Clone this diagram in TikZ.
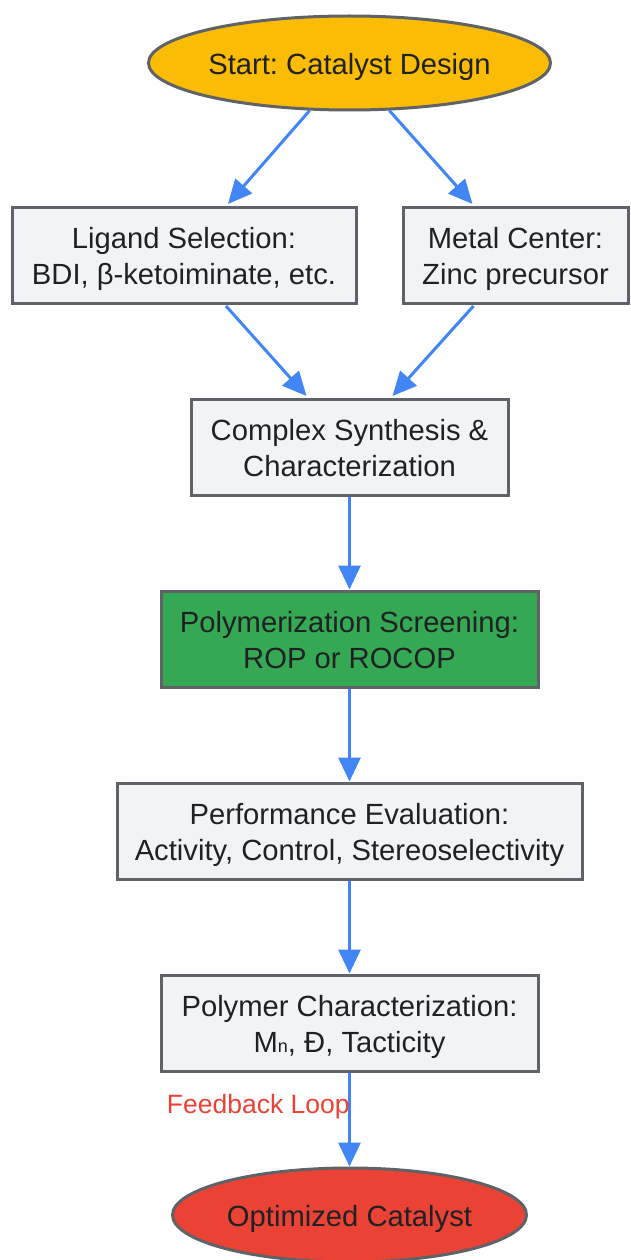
\documentclass[tikz,border=0pt]{standalone}
\usepackage{fontspec}
\setmainfont{Liberation Sans}
\usetikzlibrary{shapes.geometric,arrows.meta}
\frenchspacing
\definecolor{txt}{HTML}{202124}
\definecolor{bord}{HTML}{5F6368}
\definecolor{boxfill}{HTML}{F1F3F4}
\definecolor{startfill}{HTML}{FBBC05}
\definecolor{greenfill}{HTML}{34A853}
\definecolor{redfill}{HTML}{EA4335}
\definecolor{arrowblue}{HTML}{4285F4}
\newcommand\TopS{\rule{0pt}{31pt}}
\newcommand\BotS{\rule[-8pt]{0pt}{0pt}}
\tikzset{
  x=1pt, y=-1pt,
  base/.style={draw=bord, line width=3pt, text=txt, align=center, inner sep=0pt,
    font=\fontsize{29.2}{36}\selectfont},
  stepbox/.style={base, rectangle, fill=boxfill},
  oval/.style={base, ellipse,
    execute at begin node={\rule{0pt}{29pt}}, execute at end node={\rule[-5pt]{0pt}{0pt}}},
  arr/.style={draw=arrowblue, line width=3pt, -{Triangle[length=24pt, width=22pt]}},
}
\begin{document}
\begin{tikzpicture}
\useasboundingbox (0,0) rectangle (630,1260);
\node[oval, fill=startfill, minimum width=402pt, minimum height=94pt] (start) at (349.5,63) {Start: Catalyst Design};
\node[stepbox, minimum width=344pt, minimum height=96pt] (lig) at (184,255) {\TopS Ligand Selection:\\BDI, β-ketoiminate, etc.\BotS};
\node[stepbox, minimum width=225pt, minimum height=96pt] (met) at (515.5,255) {\TopS Metal Center:\\Zinc precursor\BotS};
\node[stepbox, minimum width=317pt, minimum height=96pt] (cx) at (349.5,447) {\TopS Complex Synthesis \&\\Characterization\BotS};
\node[stepbox, fill=greenfill, minimum width=377pt, minimum height=96pt] (poly) at (349.5,639) {\TopS Polymerization Screening:\\ROP or ROCOP\BotS};
\node[stepbox, minimum width=465pt, minimum height=96pt] (perf) at (349.5,831) {\TopS Performance Evaluation:\\Activity, Control, Stereoselectivity\BotS};
\node[stepbox, minimum width=377pt, minimum height=96pt] (pc) at (349.5,1023) {\TopS Polymer Characterization:\\M{\fontsize{18}{18}\selectfont n}, Đ, Tacticity\BotS};
\node[oval, fill=redfill, minimum width=354pt, minimum height=94pt] (opt) at (349.5,1215) {Optimized Catalyst};
\draw[arr] (start.230) -- ([xshift=44pt,yshift=1.5pt]lig.north);
\draw[arr] (start.310) -- ([xshift=-43pt,yshift=1.5pt]met.north);
\draw[arr] ([xshift=42pt,yshift=-1.5pt]lig.south) -- ([xshift=-43pt,yshift=1.5pt]cx.north);
\draw[arr] ([xshift=-42pt,yshift=-1.5pt]met.south) -- ([xshift=43pt,yshift=1.5pt]cx.north);
\draw[arr] (cx.south) -- (poly.north);
\draw[arr] (poly.south) -- (perf.north);
\draw[arr] (perf.south) -- (pc.north);
\draw[arr] (pc.south) -- node[pos=0.36, left=-5pt, text=redfill, font=\fontsize{26.5}{30}\selectfont] (fb) {Feedback Loop} (opt.north);
\end{tikzpicture}
\end{document}
